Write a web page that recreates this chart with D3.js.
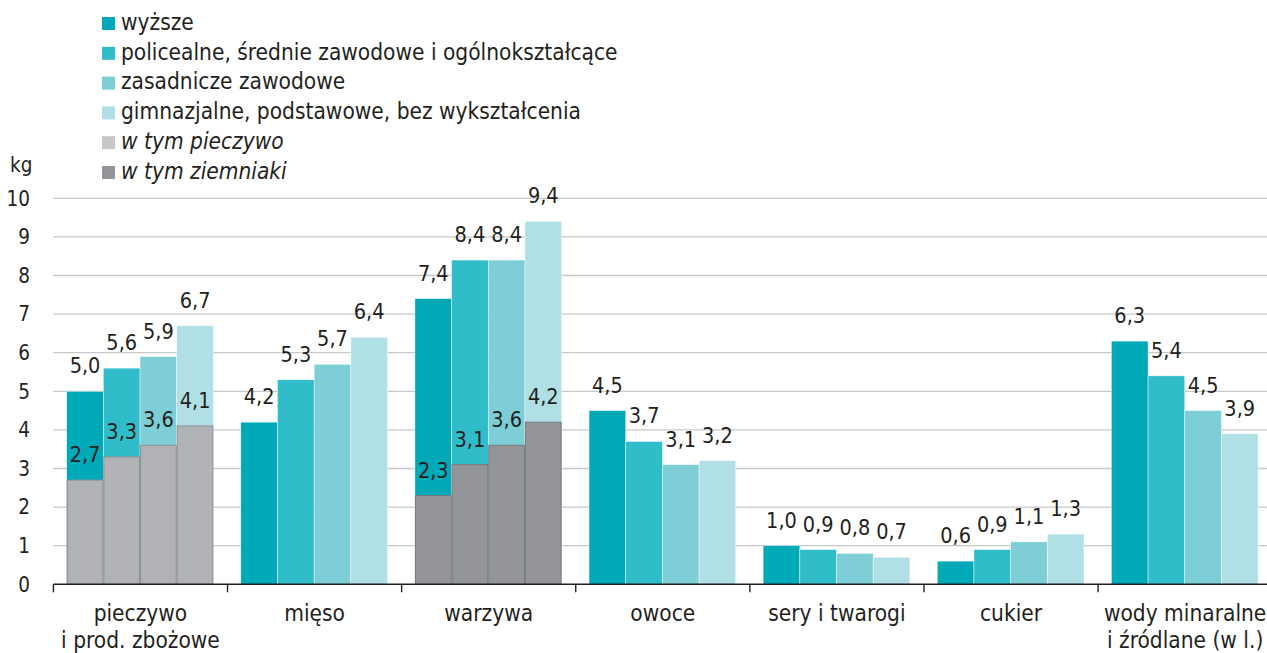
<!DOCTYPE html>
<html>
<head>
<meta charset="utf-8">
<script src="https://cdn.jsdelivr.net/npm/d3@7"></script>
<style>
  html, body { margin: 0; padding: 0; background: #fff; }
  svg { display: block; font-family: "DejaVu Sans Condensed", "Liberation Sans Narrow", "DejaVu Sans", sans-serif; }
</style>
</head>
<body>
<svg id="chart" width="1267" height="653"></svg>
<script>
// Categories (multi-line labels)
const categories = [
  ["pieczywo", "i prod. zbożowe"],
  ["mięso"],
  ["warzywa"],
  ["owoce"],
  ["sery i twarogi"],
  ["cukier"],
  ["wody minaralne", "i źródlane (w l.)"]
];
const seriesNames = [
  "wyższe",
  "policealne, średnie zawodowe i ogólnokształcące",
  "zasadnicze zawodowe",
  "gimnazjalne, podstawowe, bez wykształcenia"
];
const wyzsze      = [5.0, 4.2, 7.4, 4.5, 1.0, 0.6, 6.3];
const policealne  = [5.6, 5.3, 8.4, 3.7, 0.9, 0.9, 5.4];
const zasadnicze  = [5.9, 5.7, 8.4, 3.1, 0.8, 1.1, 4.5];
const gimnazjalne = [6.7, 6.4, 9.4, 3.2, 0.7, 1.3, 3.9];
// "w tym" sub-values per education level
const wTymPieczywo  = [2.7, 3.3, 3.6, 4.1];   // within "pieczywo i prod. zbożowe"
const wTymZiemniaki = [2.3, 3.1, 3.6, 4.2];   // within "warzywa"
const yTicks = [0, 1, 2, 3, 4, 5, 6, 7, 8, 9, 10];
const legendItems = [
  { label: seriesNames[0], color: "#00a9b7", italic: false },
  { label: seriesNames[1], color: "#31bcc9", italic: false },
  { label: seriesNames[2], color: "#7dced6", italic: false },
  { label: seriesNames[3], color: "#b0dfe5", italic: false },
  { label: "w tym pieczywo", color: "#c6c7c9", italic: true },
  { label: "w tym ziemniaki", color: "#939598", italic: true }
];

const seriesValues = [wyzsze, policealne, zasadnicze, gimnazjalne];
const seriesColors = ["#00a9b7", "#31bcc9", "#7dced6", "#b0dfe5"];
const textColor = "#231f20";
const fmt = v => d3.format(".1f")(v).replace(".", ",");

const svg = d3.select("#chart");

const y = d3.scaleLinear().domain([0, 10]).range([584.3, 198.3]);
const catIdx = d3.range(categories.length);
const x0 = d3.scaleBand().domain(catIdx).range([53.4, 1272.2]).paddingInner(0).paddingOuter(0);
const x1 = d3.scaleBand().domain(d3.range(4)).range([13.3, 160]).paddingInner(0);

// Gridlines
svg.append("g").selectAll("line")
  .data(yTicks.filter(t => t > 0))
  .join("line")
  .attr("x1", 53.4).attr("x2", 1267)
  .attr("y1", d => y(d)).attr("y2", d => y(d))
  .attr("stroke", "#c8c8c8").attr("stroke-width", 1.3);

// Y tick labels
svg.append("g").selectAll("text")
  .data(yTicks)
  .join("text")
  .attr("x", 30).attr("y", d => y(d))
  .attr("dy", "0.36em")
  .attr("text-anchor", "end")
  .attr("font-size", 20.5)
  .attr("fill", textColor)
  .text(d => d);

svg.append("text")
  .attr("x", 10).attr("y", 171.5)
  .attr("font-size", 20.5).attr("fill", textColor)
  .text("kg");

// Main bars
const groups = svg.append("g").selectAll("g")
  .data(catIdx)
  .join("g")
  .attr("transform", c => `translate(${x0(c)},0)`);

groups.selectAll("rect")
  .data(c => seriesValues.map((vals, s) => ({ s, v: vals[c] })))
  .join("rect")
  .attr("x", d => x1(d.s))
  .attr("width", x1.bandwidth())
  .attr("y", d => y(d.v))
  .attr("height", d => y(0) - y(d.v))
  .attr("fill", d => seriesColors[d.s])
  .attr("stroke", "#ffffff").attr("stroke-width", 0.6).attr("stroke-opacity", 0.7);

groups.selectAll("text.val")
  .data(c => seriesValues.map((vals, s) => ({ s, v: vals[c] })))
  .join("text")
  .attr("class", "val")
  .attr("x", d => x1(d.s) + x1.bandwidth() / 2)
  .attr("y", d => y(d.v) - 18)
  .attr("text-anchor", "middle")
  .attr("font-size", 21.5)
  .attr("fill", textColor)
  .text(d => fmt(d.v));

// "w tym" overlay bars
const subsets = [
  { cat: 0, vals: wTymPieczywo, color: "#b1b2b5", stroke: "#8f9093" },
  { cat: 2, vals: wTymZiemniaki, color: "#939598", stroke: "#7a7b7e" }
];
subsets.forEach(sub => {
  const g = svg.append("g").attr("transform", `translate(${x0(sub.cat)},0)`);
  g.selectAll("rect")
    .data(sub.vals.map((v, s) => ({ s, v })))
    .join("rect")
    .attr("x", d => x1(d.s) + 0.5)
    .attr("width", x1.bandwidth() - 1)
    .attr("y", d => y(d.v))
    .attr("height", d => y(0) - y(d.v))
    .attr("fill", sub.color)
    .attr("stroke", sub.stroke).attr("stroke-width", 1);
  g.selectAll("text")
    .data(sub.vals.map((v, s) => ({ s, v })))
    .join("text")
    .attr("x", d => x1(d.s) + x1.bandwidth() / 2)
    .attr("y", d => y(d.v) - 18)
    .attr("text-anchor", "middle")
    .attr("font-size", 21.5)
    .attr("fill", textColor)
    .text(d => fmt(d.v));
});

// X axis baseline and group separators
svg.append("line")
  .attr("x1", 53.4).attr("x2", 1267)
  .attr("y1", y(0)).attr("y2", y(0))
  .attr("stroke", "#231f20").attr("stroke-width", 1.6);
svg.append("g").selectAll("line")
  .data(catIdx)
  .join("line")
  .attr("x1", c => x0(c)).attr("x2", c => x0(c))
  .attr("y1", y(0)).attr("y2", y(0) + 8)
  .attr("stroke", "#231f20").attr("stroke-width", 1.4);

// Category labels
const catLabels = svg.append("g").selectAll("text")
  .data(catIdx)
  .join("text")
  .attr("x", c => x0(c) + x0.bandwidth() / 2)
  .attr("y", 621)
  .attr("text-anchor", "middle")
  .attr("font-size", 22.5)
  .attr("fill", textColor);
catLabels.selectAll("tspan")
  .data(c => categories[c].map((line, i) => ({ line, i, c })))
  .join("tspan")
  .attr("x", d => x0(d.c) + x0.bandwidth() / 2)
  .attr("dy", d => d.i === 0 ? 0 : 27)
  .text(d => d.line);

// Legend
const legend = svg.append("g").selectAll("g")
  .data(legendItems)
  .join("g")
  .attr("transform", (d, i) => `translate(102,${17 + i * 29.8})`);
legend.append("rect")
  .attr("width", 13).attr("height", 13)
  .attr("fill", d => d.color);
legend.append("text")
  .attr("x", 19).attr("y", 12.8)
  .attr("font-size", 22.5)
  .attr("font-style", d => d.italic ? "italic" : "normal")
  .attr("fill", textColor)
  .text(d => d.label);
</script>
</body>
</html>
